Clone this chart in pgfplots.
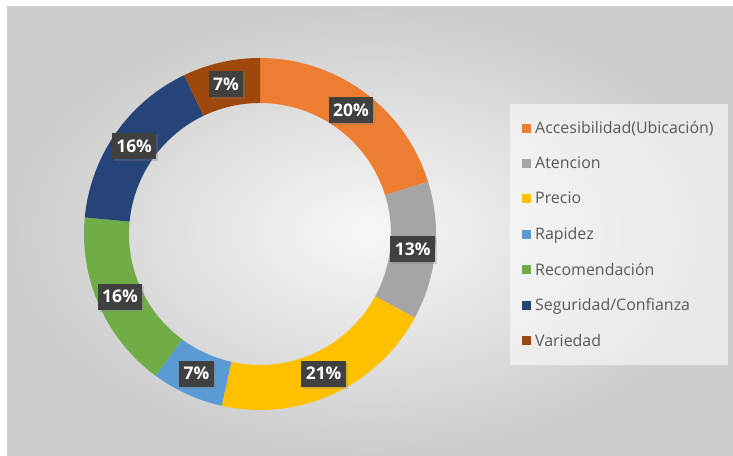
\documentclass[border=0pt]{standalone}
\usepackage{pgfplots}
\pgfplotsset{compat=1.18}
\usepackage{pgfplotstable}
\usepgfplotslibrary{fillbetween}
\usetikzlibrary{shadows}
\usepackage{fontspec}
\setmainfont{Open Sans}

\definecolor{col0}{HTML}{ED7D31}
\definecolor{col1}{HTML}{A5A5A5}
\definecolor{col2}{HTML}{FFC000}
\definecolor{col3}{HTML}{5B9BD5}
\definecolor{col4}{HTML}{70AD47}
\definecolor{col5}{HTML}{264478}
\definecolor{col6}{HTML}{9E480E}
\definecolor{lblbg}{HTML}{404040}
\definecolor{legtxt}{HTML}{595959}

% shares in percent, read off the ring
\pgfplotstableread{
label value
Accesibilidad 20.2
Atencion 12.7
Precio 20.6
Rapidez 6.6
Recomendacion 16.4
Seguridad 16.4
Variedad 7.1
}\slices

% geometry (in pixels of the reference, y upwards)
\def\cx{260}\def\cy{222}\def\Ro{176}\def\Ri{131}\def\Rl{153.5}

\xdef\cum{0}
\foreach \i in {0,...,6}{%
  \pgfplotstablegetelem{\i}{value}\of\slices
  \xdef\v{\pgfplotsretval}%
  \pgfmathsetmacro\a{90-3.6*\cum}%
  \pgfmathsetmacro\b{90-3.6*(\cum+\v)}%
  \pgfmathsetmacro\m{0.5*(\a+\b)}%
  \pgfmathsetmacro\lx{\cx+\Rl*cos(\m)}%
  \pgfmathsetmacro\ly{\cy+\Rl*sin(\m)}%
  \pgfmathtruncatemacro\rv{round(\v)}%
  \expandafter\xdef\csname sa\i\endcsname{\a}%
  \expandafter\xdef\csname sb\i\endcsname{\b}%
  \expandafter\xdef\csname lx\i\endcsname{\lx}%
  \expandafter\xdef\csname ly\i\endcsname{\ly}%
  \expandafter\xdef\csname pv\i\endcsname{\rv}%
  \pgfmathsetmacro\nc{\cum+\v}%
  \xdef\cum{\nc}%
}

\newcommand\slice[2]{%
  \edef\tmpa{\csname sb#1\endcsname}\edef\tmpb{\csname sa#1\endcsname}%
  \edef\doslice{%
  \noexpand\addplot[draw=none, forget plot, name path=o#1, domain=\tmpa:\tmpb, samples=60]
    ({\cx+\Ro*cos(x)},{\cy+\Ro*sin(x)});
  \noexpand\addplot[draw=none, forget plot, name path=i#1, domain=\tmpa:\tmpb, samples=60]
    ({\cx+\Ri*cos(x)},{\cy+\Ri*sin(x)});
  \noexpand\addplot[fill=#2, draw=none, forget plot] fill between[of=o#1 and i#1, on layer=main];
  }\doslice
}
\newcommand\lbl[1]{%
  \edef\dolbl{\noexpand\node[lab] at (axis cs:\csname lx#1\endcsname,\csname ly#1\endcsname) {\csname pv#1\endcsname\noexpand\%};}\dolbl
}

\tikzset{lab/.style={fill=lblbg, text=white, font=\bfseries\fontsize{17.5}{19}\selectfont,
    inner xsep=4.5bp, inner ysep=6.5bp,
    drop shadow={shadow xshift=2bp, shadow yshift=-2bp, opacity=0.3}}}
\pgfplotsset{sq/.style={legend image code/.code={\fill[#1, fill opacity=1, draw=none] (0bp,-4.5bp) rectangle (9bp,4.5bp); \path[draw=none] (0bp,0bp) -- (11bp,0bp);}}}

\begin{document}
\begin{tikzpicture}[x=1bp,y=1bp]
\path[fill=white] (0,0) rectangle (733,456);
\shade[inner color=white!97!black, outer color=white!80!black] (7,0) rectangle (733,449);
\begin{axis}[
  at={(0,0)}, anchor=south west,
  x=1bp, y=1bp,
  xmin=0, xmax=733, ymin=0, ymax=456,
  hide axis, clip=false,
  legend style={at={(axis cs:510,352)}, anchor=north west,
    fill=white, fill opacity=0.55, text opacity=1, draw=none,
    font=\fontsize{16}{18}\selectfont, text=legtxt,
    row sep=18bp, inner xsep=12bp, inner ysep=15bp,
    cells={anchor=west}},
]
\addlegendimage{sq=col0}\addlegendentry{Accesibilidad(Ubicación)}
\addlegendimage{sq=col1}\addlegendentry{Atencion}
\addlegendimage{sq=col2}\addlegendentry{Precio}
\addlegendimage{sq=col3}\addlegendentry{Rapidez}
\addlegendimage{sq=col4}\addlegendentry{Recomendación}
\addlegendimage{sq=col5}\addlegendentry{Seguridad/Confianza}
\addlegendimage{sq=col6}\addlegendentry{Variedad}
\slice{0}{col0}
\slice{1}{col1}
\slice{2}{col2}
\slice{3}{col3}
\slice{4}{col4}
\slice{5}{col5}
\slice{6}{col6}
\lbl{0}\lbl{1}\lbl{2}\lbl{3}\lbl{4}\lbl{5}\lbl{6}
\end{axis}
\end{tikzpicture}
\end{document}
